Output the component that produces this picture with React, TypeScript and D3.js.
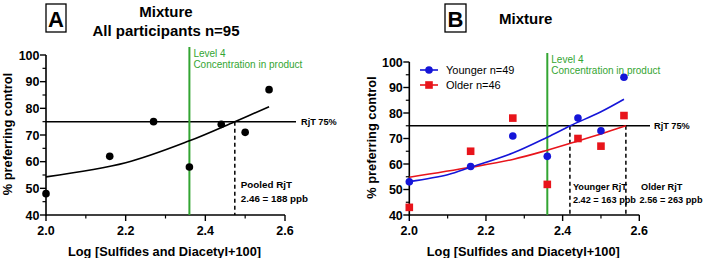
import React from "react";
import * as d3 from "d3";

const pooledX = [2.0, 2.16, 2.27, 2.36, 2.44, 2.5, 2.56];
const pooledY = [48, 62, 75, 58, 74, 71, 87];
const pooledFitX = [2.0, 2.2, 2.36, 2.474, 2.56];
const pooledFitY = [54.3, 59.6, 67.8, 75, 80.6];

const youngerY = [53, 59, 71, 63, 78, 73, 94];
const olderY = [43, 65, 78, 52, 70, 67, 79];
const youngerFitX = [2.0, 2.1, 2.16, 2.27, 2.36, 2.42, 2.5, 2.56];
const youngerFitY = [53.1, 55.8, 58.7, 64.3, 70.5, 75, 80.5, 85.4];
const olderFitX = [2.0, 2.16, 2.27, 2.36, 2.44, 2.5, 2.565];
const olderFitY = [54.8, 58.7, 61.8, 65.4, 69.0, 71.8, 75];

const xTicks = [2.0, 2.2, 2.4, 2.6];
const xMinor = [2.1, 2.3, 2.5];
const yTicks = [40, 50, 60, 70, 80, 90, 100];
const yMinor = [45, 55, 65, 75, 85, 95];

const FONT = "Liberation Sans, Arial, sans-serif";
const GREEN = "#33a532";
const BLUE = "#1515d8";
const RED = "#e8141b";

function Axes({ x, y, yLabelX }: { x: any; y: any; yLabelX: number }) {
  const [x0, x1] = x.range();
  const [y0, y1] = y.range();
  return (
    <g fontFamily={FONT}>
      <line x1={x0} x2={x0} y1={y0 + 0.75} y2={y1} stroke="#000" strokeWidth={1.6} />
      <line x1={x0} x2={x1} y1={y0} y2={y0} stroke="#000" strokeWidth={1.6} />
      {yTicks.map((t) => (
        <g key={"y" + t}>
          <line x1={x0 - 6} x2={x0} y1={y(t)} y2={y(t)} stroke="#000" strokeWidth={1.4} />
          <text x={x0 - 6.5} y={y(t)} dy="0.36em" textAnchor="end" fontSize={12.5} fontWeight="bold">{t}</text>
        </g>
      ))}
      {yMinor.map((t) => (
        <line key={"ym" + t} x1={x0 - 3.5} x2={x0} y1={y(t)} y2={y(t)} stroke="#000" strokeWidth={1.2} />
      ))}
      {xTicks.map((t) => (
        <g key={"x" + t}>
          <line x1={x(t)} x2={x(t)} y1={y0} y2={y0 + 6} stroke="#000" strokeWidth={1.4} />
          <text x={x(t)} y={y0 + 20} textAnchor="middle" fontSize={12.5} fontWeight="bold">{t.toFixed(1)}</text>
        </g>
      ))}
      {xMinor.map((t) => (
        <line key={"xm" + t} x1={x(t)} x2={x(t)} y1={y0} y2={y0 + 3.5} stroke="#000" strokeWidth={1.2} />
      ))}
      <text x={(x0 + x1) / 2 - 1} y={y0 + 41} textAnchor="middle" fontSize={12.8} fontWeight="bold">
        Log [Sulfides and Diacetyl+100]
      </text>
      <text
        transform={`translate(${yLabelX},${(y0 + y1) / 2 - 1}) rotate(-90)`}
        textAnchor="middle"
        fontSize={12.8}
        fontWeight="bold"
      >
        % preferring control
      </text>
    </g>
  );
}

export default function App() {
  const xA = d3.scaleLinear().domain([2.0, 2.6]).range([46, 285]);
  const yA = d3.scaleLinear().domain([40, 100]).range([215, 55]);
  const xB = d3.scaleLinear().domain([2.0, 2.6]).range([409.3, 639.3]);
  const yB = d3.scaleLinear().domain([40, 100]).range([215, 62]);

  const lineA = d3
    .line<number>()
    .x((d, i) => xA(pooledFitX[i]))
    .y((d) => yA(d))
    .curve(d3.curveCatmullRom);
  const lineBy = d3
    .line<number>()
    .x((d, i) => xB(youngerFitX[i]))
    .y((d) => yB(d))
    .curve(d3.curveCatmullRom);
  const lineBo = d3
    .line<number>()
    .x((d, i) => xB(olderFitX[i]))
    .y((d) => yB(d))
    .curve(d3.curveCatmullRom);

  const rjtA = 2.474;
  const rjtY = 2.419;
  const rjtO = 2.565;

  return (
    <svg width={704} height={258} style={{ position: "absolute", left: 0, top: 0, background: "#fff" }}>
      <rect width={704} height={258} fill="#fff" />
      {/* Panel A */}
      <g fontFamily={FONT}>
        <rect x={46} y={4} width={20} height={28} fill="none" stroke="#000" strokeWidth={1.3} />
        <text x={56} y={27} textAnchor="middle" fontSize={22} fontWeight="bold">A</text>
        <text x={166} y={17} textAnchor="middle" fontSize={15} fontWeight="bold">Mixture</text>
        <text x={166} y={36} textAnchor="middle" fontSize={15} fontWeight="bold">All participants n=95</text>
      </g>
      <Axes x={xA} y={yA} yLabelX={12} />
      <line x1={xA(2.0)} x2={296} y1={yA(75)} y2={yA(75)} stroke="#000" strokeWidth={1.5} />
      <text x={301} y={yA(75)} dy="0.35em" fontFamily={FONT} fontSize={9.2} fontWeight="bold">RjT 75%</text>
      <line x1={xA(2.36)} x2={xA(2.36)} y1={47} y2={yA(40)} stroke={GREEN} strokeWidth={2} />
      <text x={xA(2.36) + 4} y={57} fontFamily={FONT} fontSize={10} fill={GREEN}>Level 4</text>
      <text x={xA(2.36) + 4} y={68} fontFamily={FONT} fontSize={10} fill={GREEN}>Concentration in product</text>
      <line x1={xA(rjtA)} x2={xA(rjtA)} y1={yA(75)} y2={yA(40)} stroke="#000" strokeWidth={1.5} strokeDasharray="4,3" />
      <text x={xA(rjtA) + 6} y={188} fontFamily={FONT} fontSize={9.8} fontWeight="bold">Pooled RjT</text>
      <text x={xA(rjtA) + 6} y={202} fontFamily={FONT} fontSize={9.8} fontWeight="bold">2.46 = 188 ppb</text>
      <path d={lineA(pooledFitY) || ""} fill="none" stroke="#000" strokeWidth={1.6} />
      {pooledY.map((v, i) => (
        <circle key={"pa" + i} cx={xA(pooledX[i])} cy={yA(v)} r={3.8} fill="#000" />
      ))}

      {/* Panel B */}
      <g fontFamily={FONT}>
        <rect x={445} y={4} width={21} height={28} fill="none" stroke="#000" strokeWidth={1.3} />
        <text x={455.5} y={27} textAnchor="middle" fontSize={22} fontWeight="bold">B</text>
        <text x={499} y={24} fontSize={15} fontWeight="bold">Mixture</text>
      </g>
      <Axes x={xB} y={yB} yLabelX={376} />
      <line x1={xB(2.0)} x2={650} y1={yB(75)} y2={yB(75)} stroke="#000" strokeWidth={1.5} />
      <text x={654} y={yB(75)} dy="0.35em" fontFamily={FONT} fontSize={9.2} fontWeight="bold">RjT 75%</text>
      <line x1={xB(2.36)} x2={xB(2.36)} y1={53} y2={yB(40)} stroke={GREEN} strokeWidth={2} />
      <text x={xB(2.36) + 4} y={63} fontFamily={FONT} fontSize={10} fill={GREEN}>Level 4</text>
      <text x={xB(2.36) + 4} y={74} fontFamily={FONT} fontSize={10} fill={GREEN}>Concentration in product</text>
      <line x1={xB(rjtY)} x2={xB(rjtY)} y1={yB(75)} y2={yB(40)} stroke="#000" strokeWidth={1.5} strokeDasharray="4,3" />
      <line x1={xB(rjtO)} x2={xB(rjtO)} y1={yB(75)} y2={yB(40)} stroke="#000" strokeWidth={1.5} strokeDasharray="4,3" />
      <g fontFamily={FONT} fontSize={9.2} fontWeight="bold">
        <text x={xB(rjtY) + 3} y={190}>Younger RjT</text>
        <text x={xB(rjtY) + 3} y={203}>2.42 = 163 ppb</text>
        <text x={641} y={190}>Older RjT</text>
        <text x={639.5} y={203}>2.56 = 263 ppb</text>
      </g>
      <path d={lineBo(olderFitY) || ""} fill="none" stroke={RED} strokeWidth={1.6} />
      <path d={lineBy(youngerFitY) || ""} fill="none" stroke={BLUE} strokeWidth={1.6} />
      {olderY.map((v, i) => (
        <rect key={"o" + i} x={xB(pooledX[i]) - 3.8} y={yB(v) - 3.8} width={7.6} height={7.6} fill={RED} />
      ))}
      {youngerY.map((v, i) => (
        <circle key={"y" + i} cx={xB(pooledX[i])} cy={yB(v)} r={3.8} fill={BLUE} />
      ))}
      {/* Legend */}
      <g fontFamily={FONT} fontSize={11}>
        <line x1={420} x2={438} y1={70} y2={70} stroke={BLUE} strokeWidth={1.6} />
        <circle cx={429} cy={70} r={3.8} fill={BLUE} />
        <text x={446} y={70} dy="0.35em">Younger n=49</text>
        <line x1={420} x2={438} y1={85} y2={85} stroke={RED} strokeWidth={1.6} />
        <rect x={425.2} y={81.2} width={7.6} height={7.6} fill={RED} />
        <text x={446} y={85} dy="0.35em">Older n=46</text>
      </g>
    </svg>
  );
}
